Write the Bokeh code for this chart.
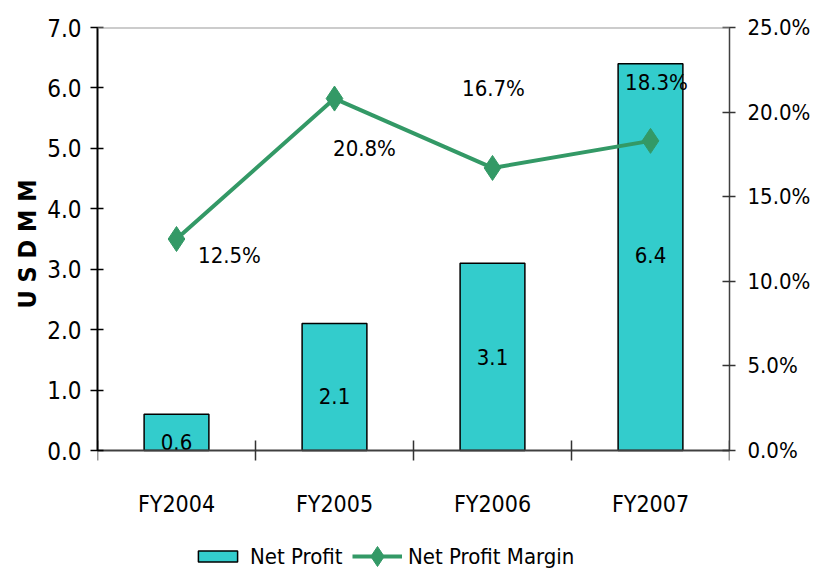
from bokeh.plotting import figure
from bokeh.models import (Range1d, LinearAxis, FixedTicker, PrintfTickFormatter,
                          Legend, LegendItem, ColumnDataSource, Span, Title)
from bokeh.core.properties import value
from bokeh.embed import file_html
from bokeh.resources import INLINE

# ---- data ----
categories = ["FY2004", "FY2005", "FY2006", "FY2007"]
net_profit = [0.6, 2.1, 3.1, 6.4]            # USD MM
net_profit_margin = [12.5, 20.8, 16.7, 18.3]  # %
left_ticks = [0, 1, 2, 3, 4, 5, 6, 7]
right_ticks = [0, 5, 10, 15, 20, 25]

# ---- styles / geometry ----
FONT = "'DejaVu Sans Condensed', 'Liberation Sans Narrow', sans-serif"
BAR_COLOR = "#33CCCC"
LINE_COLOR = "#339966"
W, H = 816, 574
LEFT_B, RIGHT_B = 97, 87
TOP, ZERO_Y = 27, 450          # px from figure top: 7.0 / 0.0 lines
LEFT_MAX, RIGHT_MAX = 7, 25
bar_label_offsets = [10, 9, 0, -2]                      # screen px (down +)
margin_label_dx = [53, 30, 1, 6]
margin_label_dy = [16, 50, -79, -58]

n = len(categories)
xs = [i + 0.5 for i in range(n)]
below_frac = (H - ZERO_Y) / (ZERO_Y - TOP)

src = ColumnDataSource(dict(
    x=xs,
    profit=net_profit,
    profit_mid=[v / 2 for v in net_profit],
    profit_lbl=[f"{v:.1f}" for v in net_profit],
    profit_dy=bar_label_offsets,
    margin=net_profit_margin,
    margin_lbl=[f"{v:.1f}%" for v in net_profit_margin],
    mdx=margin_label_dx,
    mdy=margin_label_dy,
))

p = figure(width=W, height=H, output_backend="svg", toolbar_location=None,
           x_range=Range1d(0, n), y_range=Range1d(-LEFT_MAX * below_frac, LEFT_MAX))
p.min_border_left = LEFT_B
p.min_border_right = RIGHT_B
p.min_border_top = TOP
p.min_border_bottom = 0
p.xgrid.visible = False
p.ygrid.visible = False
p.outline_line_color = None
p.background_fill_color = "white"
p.border_fill_color = "white"

p.extra_y_ranges = {"pct": Range1d(-RIGHT_MAX * below_frac, RIGHT_MAX)}

p.add_layout(Span(location=LEFT_MAX, dimension="width", line_color="#999999", line_width=2))

bars = p.vbar(x="x", top="profit", width=0.41, source=src,
              fill_color=BAR_COLOR, line_color="black", line_width=1.5)

line = p.line(x="x", y="margin", source=src, y_range_name="pct",
              line_color=LINE_COLOR, line_width=4)
pts = p.scatter(x="x", y="margin", source=src, y_range_name="pct",
                marker="diamond", size=25, fill_color=LINE_COLOR, line_color=LINE_COLOR)

p.text(x="x", y="profit_mid", text="profit_lbl", source=src, y_offset="profit_dy",
       text_align="center", text_baseline="middle", text_font=value(FONT),
       text_font_size="22px", text_color="black")
p.text(x="x", y="margin", text="margin_lbl", source=src, y_range_name="pct",
       x_offset="mdx", y_offset="mdy",
       text_align="center", text_baseline="middle", text_font=value(FONT),
       text_font_size="22px", text_color="black")

# x axis drawn at value 0
xa = p.xaxis[0]
xa.fixed_location = 0
xa.ticker = FixedTicker(ticks=xs, minor_ticks=list(range(n + 1)))
xa.major_label_overrides = {x: c for x, c in zip(xs, categories)}
xa.major_tick_in = 0
xa.major_tick_out = 0
xa.minor_tick_in = 10
xa.minor_tick_out = 10
xa.minor_tick_line_color = "#333333"
xa.minor_tick_line_width = 1.5
xa.axis_line_color = "#404040"
xa.axis_line_width = 2
xa.major_label_standoff = 30
xa.major_label_text_font = FONT
xa.major_label_text_font_size = "23px"
xa.major_label_text_color = "black"

# left y axis
ya = p.yaxis[0]
ya.bounds = (0, LEFT_MAX)
ya.ticker = FixedTicker(ticks=left_ticks, minor_ticks=[])
ya.formatter = PrintfTickFormatter(format="%.1f")
ya.major_tick_in = 6
ya.major_tick_out = 7
ya.major_tick_line_color = "black"
ya.major_tick_line_width = 1.5
ya.axis_line_color = "black"
ya.axis_line_width = 2
ya.major_label_standoff = 9
ya.major_label_text_font = FONT
ya.major_label_text_font_size = "24px"
ya.major_label_text_color = "black"

# y axis title, centred on the 0..7 span
p.add_layout(Title(text="U S D  M M", align="left", offset=H - 308,
                   text_font=FONT, text_font_style="bold", text_font_size="25px",
                   text_color="black", standoff=5), "left")

# right y axis
ra = LinearAxis(y_range_name="pct", bounds=(0, RIGHT_MAX))
ra.ticker = FixedTicker(ticks=right_ticks, minor_ticks=[])
ra.formatter = PrintfTickFormatter(format="%.1f%%")
ra.major_tick_in = 7
ra.major_tick_out = 6
ra.major_tick_line_color = "#333333"
ra.major_tick_line_width = 1.5
ra.axis_line_color = "#404040"
ra.axis_line_width = 1.5
ra.major_label_standoff = 12
ra.major_label_text_font = FONT
ra.major_label_text_font_size = "22px"
ra.major_label_text_color = "black"
p.add_layout(ra, "right")

# legends (inside the frame, below the x axis)
leg1 = Legend(items=[LegendItem(label="Net Profit", renderers=[bars])],
              location=(96, 3), orientation="horizontal",
              glyph_width=49, glyph_height=14, label_height=30, label_standoff=8,
              padding=0, margin=0, border_line_color=None, background_fill_alpha=0,
              label_text_font=FONT, label_text_font_size="22px", label_text_color="black")
leg2 = Legend(items=[LegendItem(label="Net Profit Margin", renderers=[line, pts])],
              location=(255, -7), orientation="horizontal",
              glyph_width=50, glyph_height=50, label_height=30, label_standoff=6,
              padding=0, margin=0, border_line_color=None, background_fill_alpha=0,
              label_text_font=FONT, label_text_font_size="22px", label_text_color="black")
p.add_layout(leg1)
p.add_layout(leg2)

open("out.html", "w").write(file_html(p, INLINE))
